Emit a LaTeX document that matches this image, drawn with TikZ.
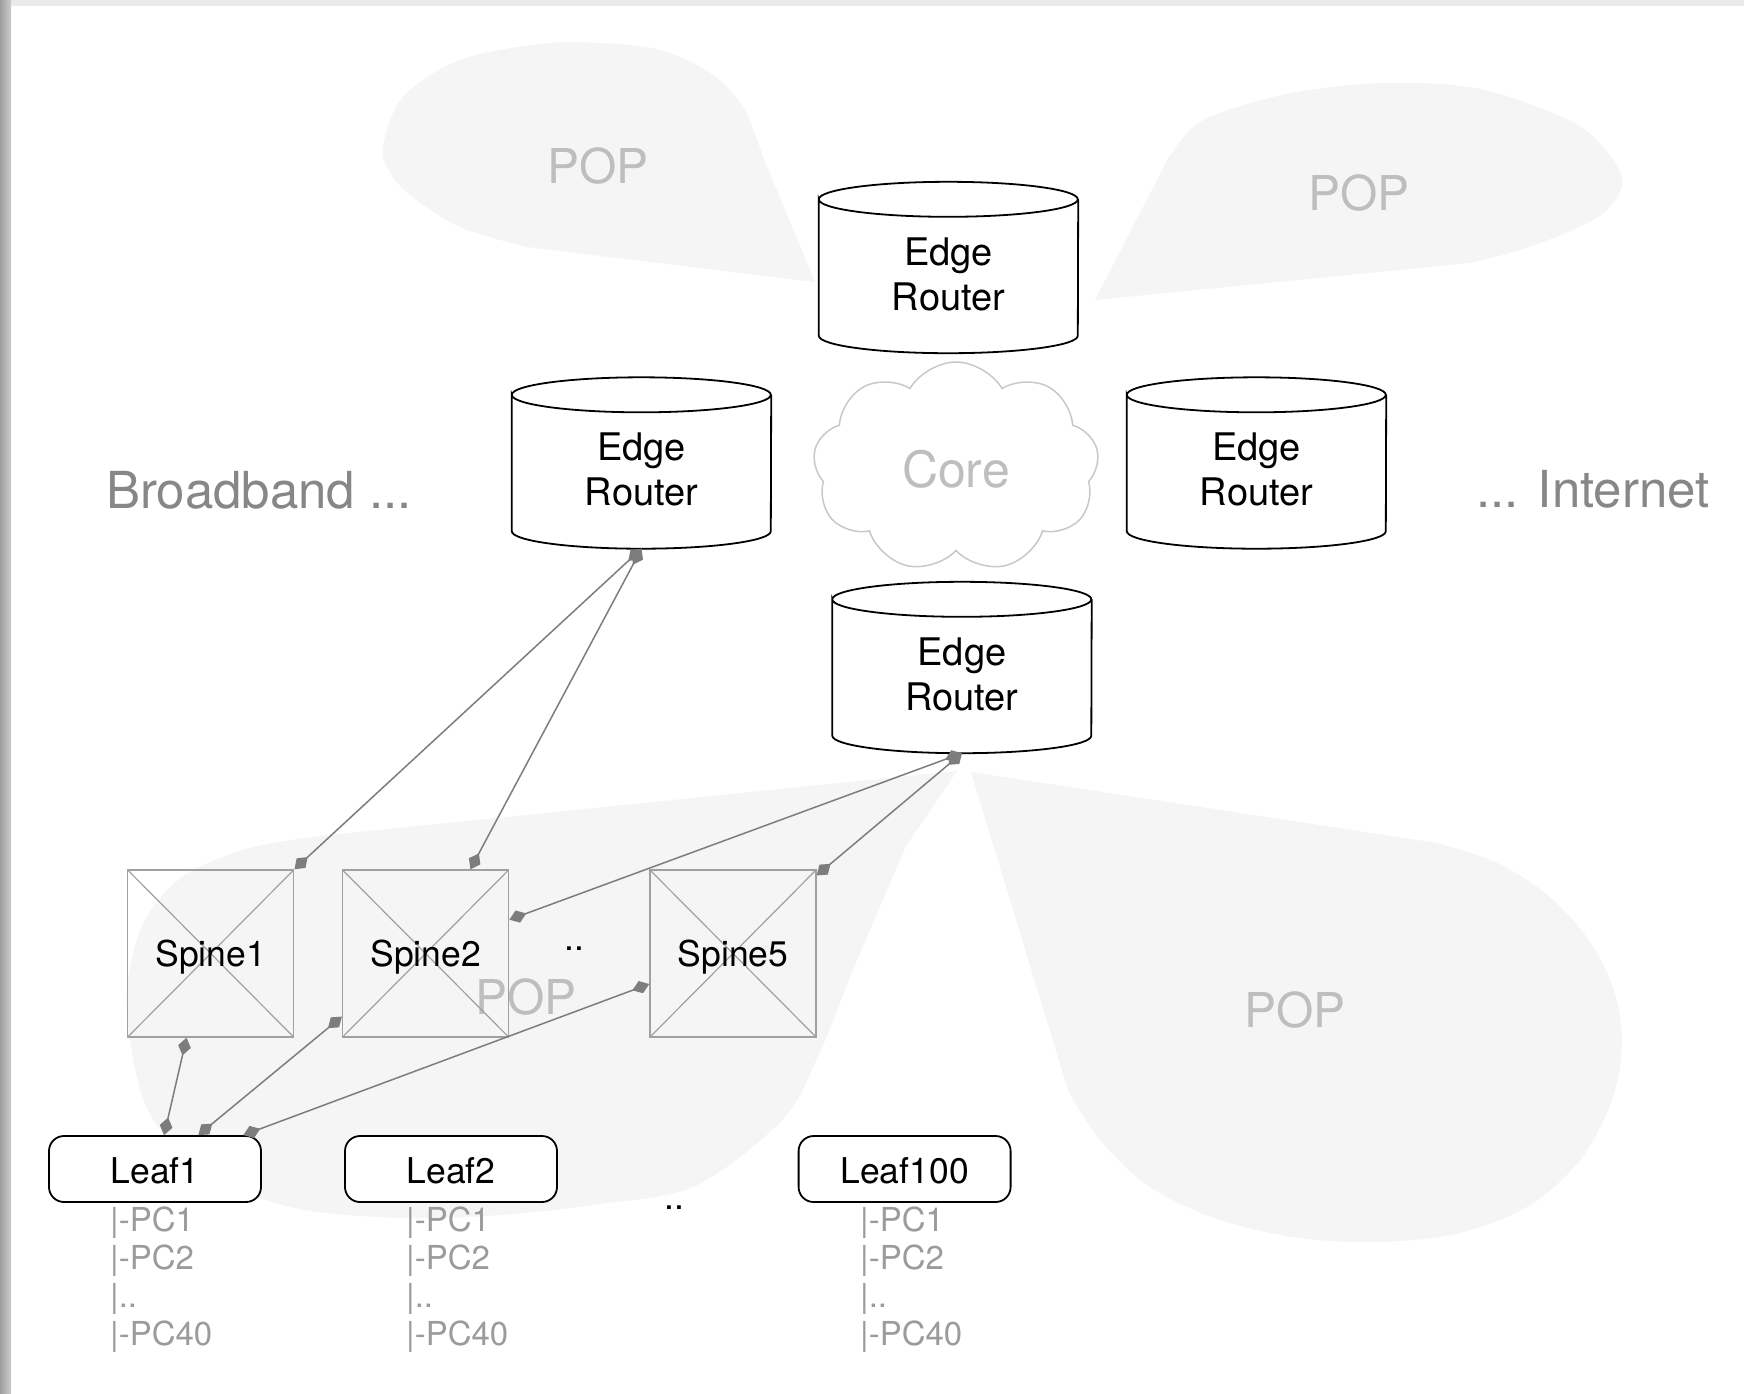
\documentclass[tikz,border=0pt]{standalone}
\usepackage{fontspec}
\setmainfont{TeX Gyre Heros}
\usetikzlibrary{arrows.meta,shapes.symbols}

\definecolor{popfill}{RGB}{245,245,245}
\definecolor{poptext}{RGB}{190,190,190}
\definecolor{linkgray}{RGB}{125,125,125}
\definecolor{spinegray}{RGB}{160,160,160}
\definecolor{sidegray}{RGB}{135,135,135}
\definecolor{pcgray}{RGB}{155,155,155}
\definecolor{cloudgray}{RGB}{200,200,200}
\definecolor{bandtop}{RGB}{234,234,234}

\newcommand\twolines[2]{\begin{tabular}[t]{@{}c@{}}#1\\#2\end{tabular}}
\newcommand\pcrows{\begin{tabular}[t]{@{}l@{}}|-PC1\\|-PC2\\|..\\|-PC40\end{tabular}}

% outline of a router cylinder drawn around a named box node
\newcommand\routercyl[1]{%
  \path[cyloutline] ([yshift=-17.5pt]#1.north west)
    arc[start angle=180, end angle=-180, x radius=129.5pt, y radius=17.5pt]
    -- ([yshift=17.5pt]#1.south west)
    arc[start angle=180, end angle=360, x radius=129.5pt, y radius=17.5pt]
    -- ([yshift=-17.5pt]#1.north east);}

\tikzset{
  popblob/.style={fill=popfill},
  poplabel/.style={text=poptext, font=\fontsize{48}{56}\selectfont, anchor=base, inner sep=0pt},
  cylbox/.style={minimum width=259pt, minimum height=171pt, inner sep=0pt, draw=none},
  cyloutline/.style={draw=black, line width=1.8pt, fill=white},
  routertext/.style={font=\fontsize{38}{45}\selectfont, anchor=base, inner sep=0pt},
  spinebox/.style={draw=spinegray, line width=1.5pt, minimum width=166pt, minimum height=167pt,
    inner sep=0pt, font=\fontsize{35.5}{42}\selectfont, text height=25pt, text depth=0pt,
    path picture={\draw[spinegray, line width=1.2pt]
      (path picture bounding box.north west) -- (path picture bounding box.south east)
      (path picture bounding box.north east) -- (path picture bounding box.south west);}},
  leafbox/.style={draw=black, line width=1.8pt, fill=white, rounded corners=15pt,
    minimum width=212pt, minimum height=66pt, inner sep=0pt,
    font=\fontsize{35.5}{42}\selectfont, text height=29pt, text depth=0pt},
  link/.style={draw=linkgray, line width=1.5pt,
    arrows={Diamond[length=18pt,width=13pt]-Diamond[length=18pt,width=13pt]}},
  pclist/.style={text=pcgray, font=\fontsize{33}{38.3}\selectfont, anchor=base west, inner sep=0pt},
  sidetext/.style={text=sidegray, font=\fontsize{51}{60}\selectfont, anchor=base, inner sep=0pt},
  dots/.style={font=\fontsize{35.5}{42}\selectfont, anchor=base, inner sep=0pt},
}

\begin{document}
\begin{tikzpicture}[x=1pt, y=-1pt]
\useasboundingbox (0,0) rectangle (1744,1393);
\fill[white] (0,0) rectangle (1744,1393);

% window edges
\fill[bandtop] (0,0) rectangle (1744,6);
\shade[left color=black!38, right color=black!20] (0,0) rectangle (11,1393);

% POP regions
\fill[popblob] (815,282) -- plot[smooth, tension=0.55] coordinates {
  (763,157) (743,107) (710,73) (660,50) (600,43) (540,44) (460,60) (403,97) (383,147)
  (390,172) (410,195) (460,227) (527,247)} -- cycle;
\fill[popblob] (1095,300) -- plot[smooth, tension=0.55] coordinates {
  (1169,157) (1193,127) (1228,110) (1297,92) (1383,83) (1469,87) (1538,107) (1589,133)
  (1622,177) (1607,210) (1572,230) (1520,250) (1469,263)} -- cycle;
\fill[popblob] (971,772) -- plot[smooth, tension=0.55] coordinates {
  (1437,843) (1495,862) (1545,893) (1585,935) (1612,985) (1622,1040) (1612,1100)
  (1580,1160) (1530,1205) (1460,1233) (1380,1242) (1300,1238) (1220,1220) (1150,1187)
  (1100,1140) (1068,1090)} -- cycle;
\fill[popblob] (957,771) -- plot[smooth, tension=0.55] coordinates {
  (906,846) (855,965) (819,1054) (782,1120) (695,1186) (600,1204) (500,1215) (402,1218)
  (290,1207) (200,1170) (149,1112) (130,1040) (128,980) (145,920) (185,875) (250,848)
  (320,836)} -- cycle;

\node[poplabel] (popTL) at (598,183) {POP};
\node[poplabel] (popTR) at (1359,210) {POP};
\node[poplabel] (popBR) at (1295,1027) {POP};
\node[poplabel] (popBL) at (526,1014) {POP};

% side labels
\node[sidetext] (broadband) at (259,508) {Broadband ...};
\node[sidetext] (internet) at (1593,507) {... Internet};

% core cloud
\node[cloud, draw=cloudgray, line width=1.5pt, fill=white, cloud puffs=9,
  cloud puff arc=120, aspect=1.35, minimum width=286pt, minimum height=210pt,
  inner sep=0pt] (core) at (956,467) {};
\node[text=poptext, font=\fontsize{50}{60}\selectfont, anchor=base, inner sep=0pt]
  (coretext) at (956,487) {Core};

% edge routers
\node[cylbox] (erT) at (948.5,267.5) {};
\node[cylbox] (erL) at (641.5,463) {};
\node[cylbox] (erR) at (1256.5,463) {};
\node[cylbox] (erB) at (962,667.5) {};
\routercyl{erT}
\routercyl{erL}
\routercyl{erR}
\routercyl{erB}
\node[routertext] (erTtext) at (948.5,265) {\twolines{Edge}{Router}};
\node[routertext] (erLtext) at (641.5,460) {\twolines{Edge}{Router}};
\node[routertext] (erRtext) at (1256.5,460) {\twolines{Edge}{Router}};
\node[routertext] (erBtext) at (962,665) {\twolines{Edge}{Router}};

% spines
\node[spinebox] (sp1) at (210.7,953.5) {Spine1};
\node[spinebox] (sp2) at (425.6,953.5) {Spine2};
\node[spinebox] (sp5) at (733,953.5) {Spine5};
\node[dots] (spdots) at (574,950) {..};

% leaves
\node[leafbox] (leaf1) at (155,1169) {Leaf1};
\node[leafbox] (leaf2) at (451,1169) {Leaf2};
\node[leafbox] (leaf100) at (904.6,1169) {Leaf100};
\node[dots] (leafdots) at (674.5,1209) {..};

\node[pclist] (pc1) at (110,1231) {\pcrows};
\node[pclist] (pc2) at (406,1231) {\pcrows};
\node[pclist] (pc100) at (860,1231) {\pcrows};

% links
\draw[link] (erL.south) -- (sp1.north east);
\draw[link] (erL.south) -- (sp2.62);
\draw[link] (erB.south) -- (sp2.22);
\draw[link] (erB.south) -- (sp5.43);
\draw[link] (sp1.254) -- (leaf1.75);
\draw[link] (sp2.217) -- (leaf1.38);
\draw[link] (sp5.200) -- (leaf1.21);
\end{tikzpicture}
\end{document}
